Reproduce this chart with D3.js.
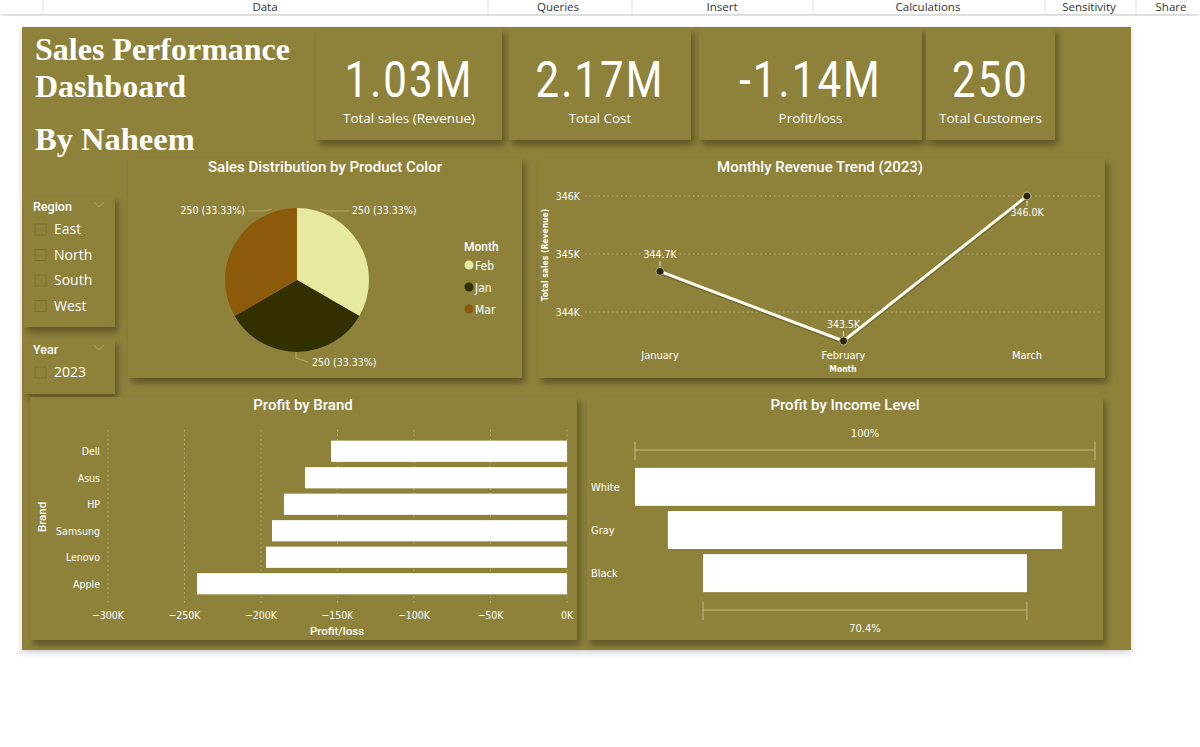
<!DOCTYPE html>
<html><head><meta charset="utf-8">
<script src="https://cdn.jsdelivr.net/npm/d3@7"></script>
<style>
body{margin:0;background:#fff;}
svg{display:block;}
text{font-family:"Liberation Sans Narrow","DejaVu Sans Condensed",Roboto,sans-serif;}
</style></head>
<body>
<svg id="c" width="1200" height="747"></svg>
<script>
// ---------- data ----------
const menuItems = ["Data","Queries","Insert","Calculations","Sensitivity","Share"];
const kpiValues = ["1.03M","2.17M","-1.14M","250"];
const kpiLabels = ["Total sales (Revenue)","Total Cost","Profit/loss","Total Customers"];
const regions = ["East","North","South","West"];
const years = ["2023"];
const pieMonths = ["Feb","Jan","Mar"];
const pieValues = [250,250,250];
const lineMonths = ["January","February","March"];
const lineValues = [344700,343500,346000];
const lineTicks = [344000,345000,346000];
const brands = ["Dell","Asus","HP","Samsung","Lenovo","Apple"];
const brandProfit = [-154200,-171200,-185000,-192800,-196700,-241800];
const brandTicks = [-300000,-250000,-200000,-150000,-100000,-50000,0];
const incomeLevels = ["White","Gray","Black"];
const incomeProfit = [445800,382100,313900];

// ---------- styles ----------
const BG = "#8e823a";
const WHITE = "#ffffff";
const pieColors = {"Feb":"#e6e9a0","Jan":"#333000","Mar":"#8c5a0b"};
const TITLE_FONT = "Roboto,'DejaVu Sans Condensed',sans-serif";

const svg = d3.select("#c");
const defs = svg.append("defs");
const f = defs.append("filter").attr("id","sh").attr("x","-10%").attr("y","-10%").attr("width","130%").attr("height","140%");
f.append("feDropShadow").attr("dx",3).attr("dy",5).attr("stdDeviation",3.5).attr("flood-color","#000").attr("flood-opacity",0.35);
const f2 = defs.append("filter").attr("id","sh2").attr("x","-5%").attr("y","-5%").attr("width","110%").attr("height","115%");
f2.append("feDropShadow").attr("dx",0).attr("dy",3).attr("stdDeviation",3).attr("flood-color","#000").attr("flood-opacity",0.18);

// ---------- top menu bar ----------
svg.append("rect").attr("x",0).attr("y",0).attr("width",1200).attr("height",14).attr("fill","#fff").attr("filter","url(#sh2)");
const menuX = [265,558,722,928,1089,1171];
[43,488,632,813,1045,1136].forEach(x=>svg.append("line").attr("x1",x).attr("x2",x).attr("y1",0).attr("y2",14).attr("stroke","#e1e1e1"));
menuItems.forEach((m,i)=>svg.append("text").attr("x",menuX[i]).attr("y",11).attr("text-anchor","middle")
  .style("font-family","'Open Sans',sans-serif").attr("font-size",11.5).attr("fill","#333").text(m));

// ---------- page ----------
svg.append("rect").attr("x",22).attr("y",27).attr("width",1109).attr("height",623).attr("fill",BG).attr("filter","url(#sh2)");

function card(x,y,w,h){
  svg.append("rect").attr("x",x).attr("y",y).attr("width",w).attr("height",h).attr("fill",BG).attr("filter","url(#sh)");
}
function title(x,y,t){
  svg.append("text").attr("x",x).attr("y",y).attr("text-anchor","middle").attr("font-size",15).attr("font-weight",500).attr("fill",WHITE)
    .style("font-family",TITLE_FONT).text(t);
}

// title
[["Sales Performance",60,32],["Dashboard",97,32],["By Naheem",150,32.5]].forEach(([t,y,s])=>
  svg.append("text").attr("x",35).attr("y",y).attr("font-size",s).attr("font-weight","bold").attr("fill",WHITE)
    .style("font-family","'Liberation Serif','Times New Roman',serif").text(t));

// KPI cards
const kpiBoxes = [[316,28,186,112],[509,28,182,112],[699,28,223,112],[926,28,129,112]];
kpiBoxes.forEach((b,i)=>{
  card(...b);
  const cx = b[0]+b[2]/2;
  svg.append("text").attr("transform",`translate(${cx},97) scale(0.84,1)`).attr("text-anchor","middle").attr("font-size",50)
    .attr("font-weight",400).attr("letter-spacing",2.5).attr("fill",WHITE).style("font-family","Roboto,sans-serif").text(kpiValues[i]);
  svg.append("text").attr("x",cx).attr("y",123).attr("text-anchor","middle").attr("font-size",13.5)
    .attr("fill",WHITE).style("font-family","'Open Sans','Noto Sans',sans-serif").text(kpiLabels[i]);
});

// slicers
function slicer(x,y,w,h,title,items){
  card(x,y,w,h);
  svg.append("text").attr("x",x+9).attr("y",y+15).attr("font-size",12.5).attr("font-weight",500).attr("fill",WHITE)
    .style("font-family",TITLE_FONT).text(title);
  svg.append("polyline").attr("points",`${x+70},${y+6} ${x+75},${y+11} ${x+80},${y+6}`).attr("fill","none").attr("stroke","#a89c5a").attr("stroke-width",1.2);
  items.forEach((it,i)=>{
    const yy = y+38+i*25.5;
    svg.append("rect").attr("x",x+11).attr("y",yy-10).attr("width",11).attr("height",11).attr("fill","none").attr("stroke","#7a7032").attr("stroke-width",1);
    svg.append("text").attr("x",x+30).attr("y",yy).attr("font-size",14).attr("fill",WHITE)
      .style("font-family","'Open Sans',sans-serif").text(it);
  });
}
slicer(24,196,91,131,"Region",regions);
slicer(24,339,91,55,"Year",years);

// ---------- pie ----------
card(128,158,394,220);
title(325,172,"Sales Distribution by Product Color");
const pcx=297, pcy=280, pr=72;
const pie = d3.pie().sort(null).value(d=>d.v);
const arcs = pie(pieMonths.map((m,i)=>({m,v:pieValues[i]})));
const arc = d3.arc().innerRadius(0).outerRadius(pr);
const pg = svg.append("g").attr("transform",`translate(${pcx},${pcy})`);
pg.selectAll("path").data(arcs).join("path").attr("d",arc).attr("fill",d=>pieColors[d.data.m]);
const total = d3.sum(pieValues);
const labelPos = [[352,214,"start"],[312,366,"start"],[245,214,"end"]];
arcs.forEach((a,i)=>{
  const lp = labelPos[i];
  svg.append("text").attr("x",lp[0]).attr("y",lp[1]).attr("text-anchor",lp[2]).attr("font-size",10.5).attr("fill",WHITE)
    .text(`${a.data.v} (${d3.format(".2%")(a.data.v/total)})`);
});
// leader lines
svg.append("path").attr("d","M320,209 L327,211 L349,211").attr("stroke","#b5aa6c").attr("fill","none");
svg.append("path").attr("d","M272,209 L265,211 L248,211").attr("stroke","#b5aa6c").attr("fill","none");
svg.append("path").attr("d","M296,352 L296,358 L308,362").attr("stroke","#b5aa6c").attr("fill","none");
// legend
svg.append("text").attr("x",464).attr("y",251).attr("font-size",12).attr("font-weight",500).attr("fill",WHITE)
  .style("font-family",TITLE_FONT).text("Month");
pieMonths.forEach((m,i)=>{
  const yy=265+i*22;
  svg.append("circle").attr("cx",469).attr("cy",yy).attr("r",4.5).attr("fill",pieColors[m]);
  svg.append("text").attr("x",475).attr("y",yy+4.5).attr("font-size",12).attr("fill",WHITE).text(m);
});

// ---------- line ----------
card(538,158,567,220);
title(820,172,"Monthly Revenue Trend (2023)");
const lx = d3.scalePoint().domain(lineMonths).range([660,1027]);
const ly = d3.scaleLinear().domain([344000,346000]).range([312,196]);
const lgrid = svg.append("g");
lineTicks.forEach(t=>{
  lgrid.append("line").attr("x1",585).attr("x2",1100).attr("y1",ly(t)).attr("y2",ly(t)).attr("stroke","#b9b07a").attr("stroke-dasharray","1.5,3");
  lgrid.append("text").attr("x",580).attr("y",ly(t)+4).attr("text-anchor","end").attr("font-size",10.5).attr("fill",WHITE).text(d3.format(".0f")(t/1000)+"K");
});
svg.append("text").attr("transform","translate(548,255) rotate(-90)").attr("text-anchor","middle").attr("font-size",8.5).attr("font-weight","bold").attr("fill",WHITE)
  .style("font-family","'DejaVu Sans Condensed',sans-serif").text("Total sales (Revenue)");
lineMonths.forEach(m=>svg.append("text").attr("x",lx(m)).attr("y",359).attr("text-anchor","middle").attr("font-size",11).attr("fill",WHITE).text(m));
svg.append("text").attr("x",843).attr("y",372).attr("text-anchor","middle").attr("font-size",8.5).attr("font-weight","bold").attr("fill",WHITE)
  .style("font-family","'DejaVu Sans Condensed',sans-serif").text("Month");
const line = d3.line().x((d,i)=>lx(lineMonths[i])).y(d=>ly(d));
svg.append("path").attr("d",line(lineValues)).attr("fill","none").attr("stroke","#5e5520").attr("stroke-width",4.5).attr("opacity",0.5).attr("transform","translate(0,1)");
svg.append("path").attr("d",line(lineValues)).attr("fill","none").attr("stroke","#fffdf2").attr("stroke-width",3);
lineValues.forEach((v,i)=>{
  const x=lx(lineMonths[i]), y=ly(v);
  svg.append("circle").attr("cx",x).attr("cy",y).attr("r",4).attr("fill","#2a2810").attr("stroke","#cfc9a0").attr("stroke-width",0.8);
  const below = i===2;
  svg.append("line").attr("x1",x).attr("x2",x).attr("y1",below?y+5:y-5).attr("y2",below?y+10:y-10).attr("stroke",WHITE).attr("stroke-width",0.8);
  svg.append("text").attr("x",x).attr("y",below?y+20:y-13).attr("text-anchor","middle").attr("font-size",10.5).attr("fill",WHITE)
    .text(d3.format(".1f")(v/1000)+"K");
});

// ---------- brand bars ----------
card(30,397,547,243);
title(303,410,"Profit by Brand");
const bx = d3.scaleLinear().domain([-300000,0]).range([108,567]);
const by = d3.scaleBand().domain(brands).range([438,597]).paddingInner(0.2).paddingOuter(0.1);
brandTicks.forEach(t=>{
  svg.append("line").attr("x1",bx(t)).attr("x2",bx(t)).attr("y1",430).attr("y2",605).attr("stroke","#b9b07a").attr("stroke-dasharray","1.5,3");
  svg.append("text").attr("x",bx(t)).attr("y",619).attr("text-anchor","middle").attr("font-size",10.5).attr("fill",WHITE)
    .text(d3.format(".0f")(t/1000)+"K");
});
svg.selectAll(".bb").data(brands).join("rect").attr("class","bb")
  .attr("x",(d,i)=>bx(brandProfit[i])).attr("width",(d,i)=>bx(0)-bx(brandProfit[i]))
  .attr("y",d=>by(d)).attr("height",by.bandwidth()).attr("fill",WHITE);
brands.forEach(b=>svg.append("text").attr("x",100).attr("y",by(b)+by.bandwidth()/2+4).attr("text-anchor","end").attr("font-size",10.5).attr("fill",WHITE).text(b));
svg.append("text").attr("transform","translate(46,517) rotate(-90)").attr("text-anchor","middle").attr("font-size",11.5).attr("font-weight",500).attr("fill",WHITE)
  .style("font-family",TITLE_FONT).text("Brand");
svg.append("text").attr("x",337).attr("y",635).attr("text-anchor","middle").attr("font-size",11.5).attr("font-weight",500).attr("fill",WHITE)
  .style("font-family",TITLE_FONT).text("Profit/loss");

// ---------- funnel ----------
card(587,397,516,243);
title(845,410,"Profit by Income Level");
const fmax = d3.max(incomeProfit);
const fw = d3.scaleLinear().domain([0,fmax]).range([0,460]);
const fcx = 865;
const fy = d3.scaleBand().domain(incomeLevels).range([467,593]).paddingInner(0.12).paddingOuter(0.02);
svg.selectAll(".fb").data(incomeLevels).join("rect").attr("class","fb")
  .attr("x",(d,i)=>fcx-fw(incomeProfit[i])/2).attr("width",(d,i)=>fw(incomeProfit[i]))
  .attr("y",d=>fy(d)).attr("height",fy.bandwidth()).attr("fill",WHITE);
incomeLevels.forEach(l=>svg.append("text").attr("x",591).attr("y",fy(l)+fy.bandwidth()/2+4).attr("font-size",11).attr("fill",WHITE).text(l));
function bracket(v,y,ty,label){
  const x1=fcx-fw(v)/2, x2=fcx+fw(v)/2;
  const g=svg.append("g").attr("stroke","#c1b98a").attr("stroke-width",1);
  g.append("line").attr("x1",x1).attr("x2",x2).attr("y1",y).attr("y2",y);
  g.append("line").attr("x1",x1).attr("x2",x1).attr("y1",y-8).attr("y2",y+10);
  g.append("line").attr("x1",x2).attr("x2",x2).attr("y1",y-8).attr("y2",y+10);
  svg.append("text").attr("x",fcx).attr("y",ty).attr("text-anchor","middle").attr("font-size",11).attr("fill",WHITE).text(label);
}
bracket(incomeProfit[0],450,437,"100%");
bracket(incomeProfit[2],610,632,d3.format(".1%")(incomeProfit[2]/incomeProfit[0]));
</script>
</body></html>
